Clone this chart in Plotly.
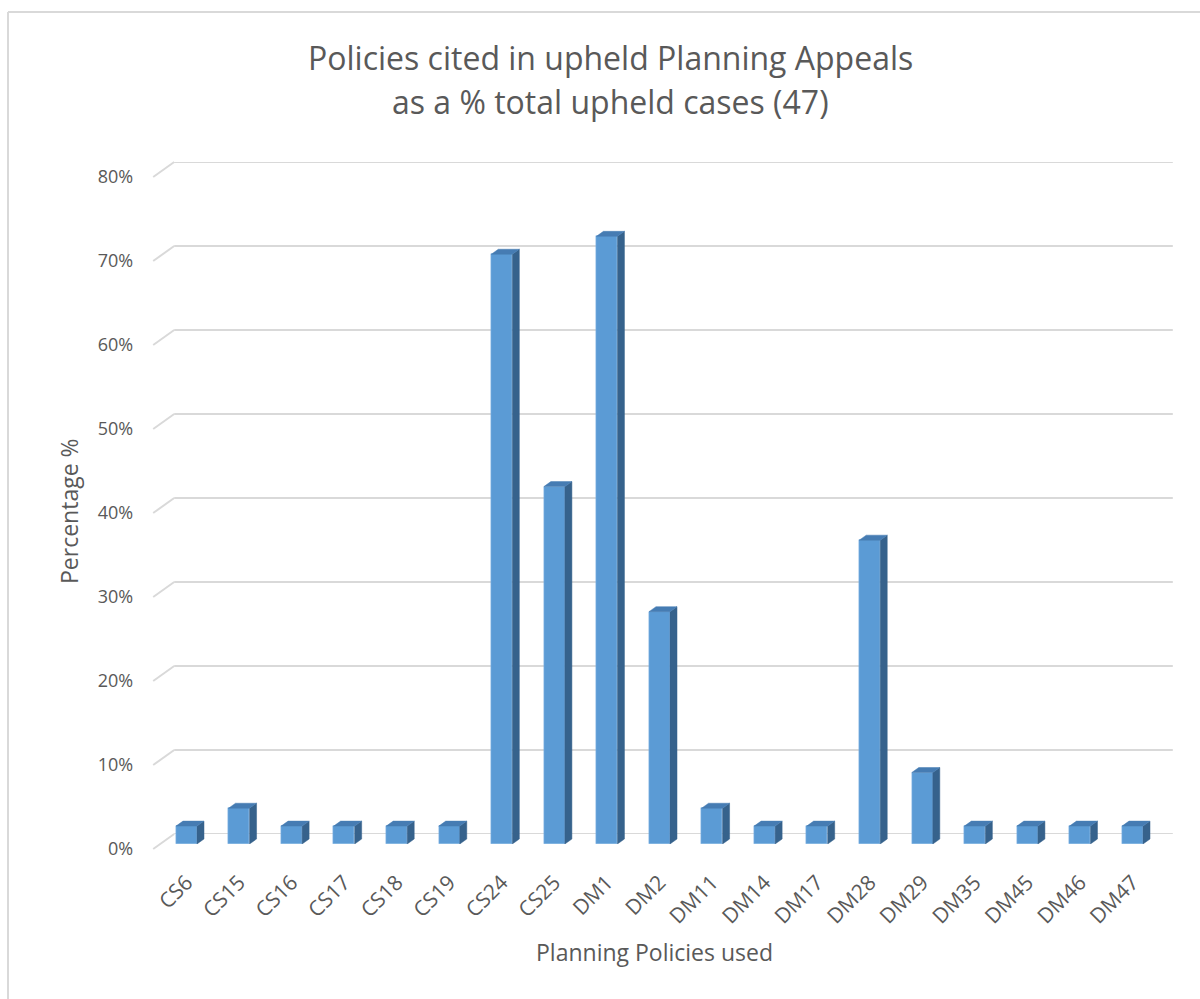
import plotly.graph_objects as go

# ---- data ----
categories = ["CS6", "CS15", "CS16", "CS17", "CS18", "CS19", "CS24", "CS25", "DM1", "DM2",
              "DM11", "DM14", "DM17", "DM28", "DM29", "DM35", "DM45", "DM46", "DM47"]
percent = [2.13, 4.26, 2.13, 2.13, 2.13, 2.13, 70.21, 42.55, 72.34, 27.66,
           4.26, 2.13, 2.13, 36.17, 8.51, 2.13, 2.13, 2.13, 2.13]
y_ticks = [0, 10, 20, 30, 40, 50, 60, 70, 80]
y_tick_labels = [f"{t}%" for t in y_ticks]

title_lines = ["Policies cited in upheld Planning Appeals", "as a % total upheld cases (47)"]
x_title = "Planning Policies used"
y_title = "Percentage %"

# ---- layout geometry (pixels) ----
W, H = 1200, 999
X0_PX, X1_PX = 160.2, 1158.8      # category band of bar plane
Y0_PX, Y80_PX = 844.0, 172.0      # value 0 and 80 on bar plane
DEPTH_DX, DEPTH_DY = 7.0, 5.0     # half-depth oblique offset (px)
LABEL_DX, LABEL_Y = -12.0, 865.0  # category label anchor offset / row
YMAX = 80

def fx(px):
    return px / W

def fy(py):
    return 1 - py / H

cat_px = (X1_PX - X0_PX) / len(categories)
val_px = (Y0_PX - Y80_PX) / YMAX
dx_data = DEPTH_DX / cat_px
dy_data = DEPTH_DY / val_px
half_w = 0.2

FRONT = "#5B9BD5"
TOP = "#467CB3"
SIDE = "#36628C"
GRID = "#D9D9D9"
TEXT = "#595959"
FONT = "Open Sans"

fig = go.Figure()

fig.add_trace(go.Scatter(x=[0], y=[0], xaxis="x2", yaxis="y2", mode="markers",
                         marker=dict(opacity=0), hoverinfo="skip", showlegend=False))
fig.add_trace(go.Scatter(x=[0], y=[0], xaxis="x3", yaxis="y3", mode="markers",
                         marker=dict(opacity=0), hoverinfo="skip", showlegend=False))
fig.add_trace(go.Scatter(x=[0], y=[0], xaxis="x4", yaxis="y", mode="markers",
                         marker=dict(opacity=0), hoverinfo="skip", showlegend=False))

sx, sy = [], []
tx, ty = [], []
for i, v in enumerate(percent):
    r = i + half_w
    l = i - half_w
    sx += [r, r + dx_data, r + dx_data, r, r, None]
    sy += [0, dy_data, v + dy_data, v, 0, None]
    tx += [l, l + dx_data, r + dx_data, r, l, None]
    ty += [v, v + dy_data, v + dy_data, v, v, None]

fig.add_trace(go.Scatter(x=sx, y=sy, fill="toself", fillcolor=SIDE, mode="lines",
                         line=dict(color=SIDE, width=0.5), hoverinfo="skip", showlegend=False))
fig.add_trace(go.Scatter(x=tx, y=ty, fill="toself", fillcolor=TOP, mode="lines",
                         line=dict(color=TOP, width=0.5), hoverinfo="skip", showlegend=False))

fig.add_trace(go.Bar(x=list(range(len(categories))), y=percent, width=2 * half_w,
                     marker=dict(color=FRONT, line=dict(color="#7DB1E3", width=0.6)),
                     showlegend=False, hovertemplate="%{y:.1f}%<extra></extra>"))

shapes = []
for t in y_ticks:
    shapes.append(dict(type="line", xref="x2 domain", yref="y2", x0=0, x1=1, y0=t, y1=t,
                       line=dict(color=GRID, width=2), layer="below"))
    py_bar = Y0_PX - t * val_px
    shapes.append(dict(type="line", xref="paper", yref="paper",
                       x0=fx(X0_PX - DEPTH_DX), y0=fy(py_bar + DEPTH_DY),
                       x1=fx(X0_PX + 2 * DEPTH_DX), y1=fy(py_bar - 2 * DEPTH_DY),
                       line=dict(color=GRID, width=2), layer="below"))
shapes.append(dict(type="line", xref="paper", yref="paper", x0=fx(8), y0=fy(12), x1=1.0, y1=fy(12),
                   line=dict(color=GRID, width=2)))
shapes.append(dict(type="line", xref="paper", yref="paper", x0=fx(8), y0=fy(12), x1=fx(8), y1=0.0,
                   line=dict(color=GRID, width=2)))

annotations = [
    dict(text=title_lines[0], x=fx(610), y=fy(57), xref="paper", yref="paper", showarrow=False,
         font=dict(family=FONT, size=32, color=TEXT), xanchor="center", yanchor="middle"),
    dict(text=title_lines[1], x=fx(610), y=fy(101), xref="paper", yref="paper", showarrow=False,
         font=dict(family=FONT, size=32, color=TEXT), xanchor="center", yanchor="middle"),
    dict(text=x_title, x=fx(654), y=fy(952), xref="paper", yref="paper", showarrow=False,
         font=dict(family=FONT, size=23, color=TEXT), xanchor="center", yanchor="middle"),
    dict(text=y_title, x=fx(69), y=fy(511), xref="paper", yref="paper", showarrow=False,
         textangle=-90, font=dict(family=FONT, size=23, color=TEXT), xanchor="center", yanchor="middle"),
]

fig.update_layout(
    width=W, height=H,
    margin=dict(l=0, r=0, t=0, b=0, pad=0, autoexpand=False),
    paper_bgcolor="white", plot_bgcolor="rgba(0,0,0,0)",
    font=dict(family=FONT, color=TEXT, size=18),
    shapes=shapes, annotations=annotations,
    bargap=0,
    xaxis=dict(domain=[fx(X0_PX), fx(X1_PX)], range=[-0.5, len(categories) - 0.5],
               showticklabels=False, showgrid=False, zeroline=False, showline=False, ticks="",
               anchor="y", automargin=False),
    yaxis=dict(domain=[fy(Y0_PX), fy(Y80_PX)], range=[0, YMAX], showgrid=False, zeroline=False,
               showticklabels=False, showline=False, anchor="x", automargin=False),
    xaxis2=dict(domain=[fx(X0_PX + 2 * DEPTH_DX), fx(X1_PX + 2 * DEPTH_DX)], range=[-0.5, len(categories) - 0.5],
                visible=False, anchor="y2", automargin=False),
    yaxis2=dict(domain=[fy(Y0_PX - 2 * DEPTH_DY), fy(Y80_PX - 2 * DEPTH_DY)], range=[0, YMAX],
                showgrid=False, showticklabels=False, zeroline=False, showline=False,
                anchor="x2", automargin=False),
    xaxis3=dict(domain=[fx(X0_PX - DEPTH_DX), fx(X1_PX - DEPTH_DX)], range=[-0.5, len(categories) - 0.5],
                visible=False, anchor="y3", automargin=False),
    yaxis3=dict(domain=[fy(Y0_PX + DEPTH_DY), fy(Y80_PX + DEPTH_DY)], range=[0, YMAX],
                tickmode="array", tickvals=y_ticks, ticktext=y_tick_labels, showgrid=False,
                zeroline=False, showline=False, ticks="", anchor="free", position=fx(X0_PX - DEPTH_DX),
                ticklabelstandoff=20, tickfont=dict(family=FONT, size=18, color=TEXT), automargin=False),
    xaxis4=dict(domain=[fx(X0_PX + LABEL_DX), fx(X1_PX + LABEL_DX)], range=[-0.5, len(categories) - 0.5],
                tickmode="array", tickvals=list(range(len(categories))), ticktext=categories,
                tickangle=-45, showgrid=False, zeroline=False, showline=False, ticks="",
                tickfont=dict(family=FONT, size=21, color=TEXT), anchor="free", position=fy(LABEL_Y),
                side="bottom", overlaying="x", automargin=False),
)

fig.write_html("out.html")
